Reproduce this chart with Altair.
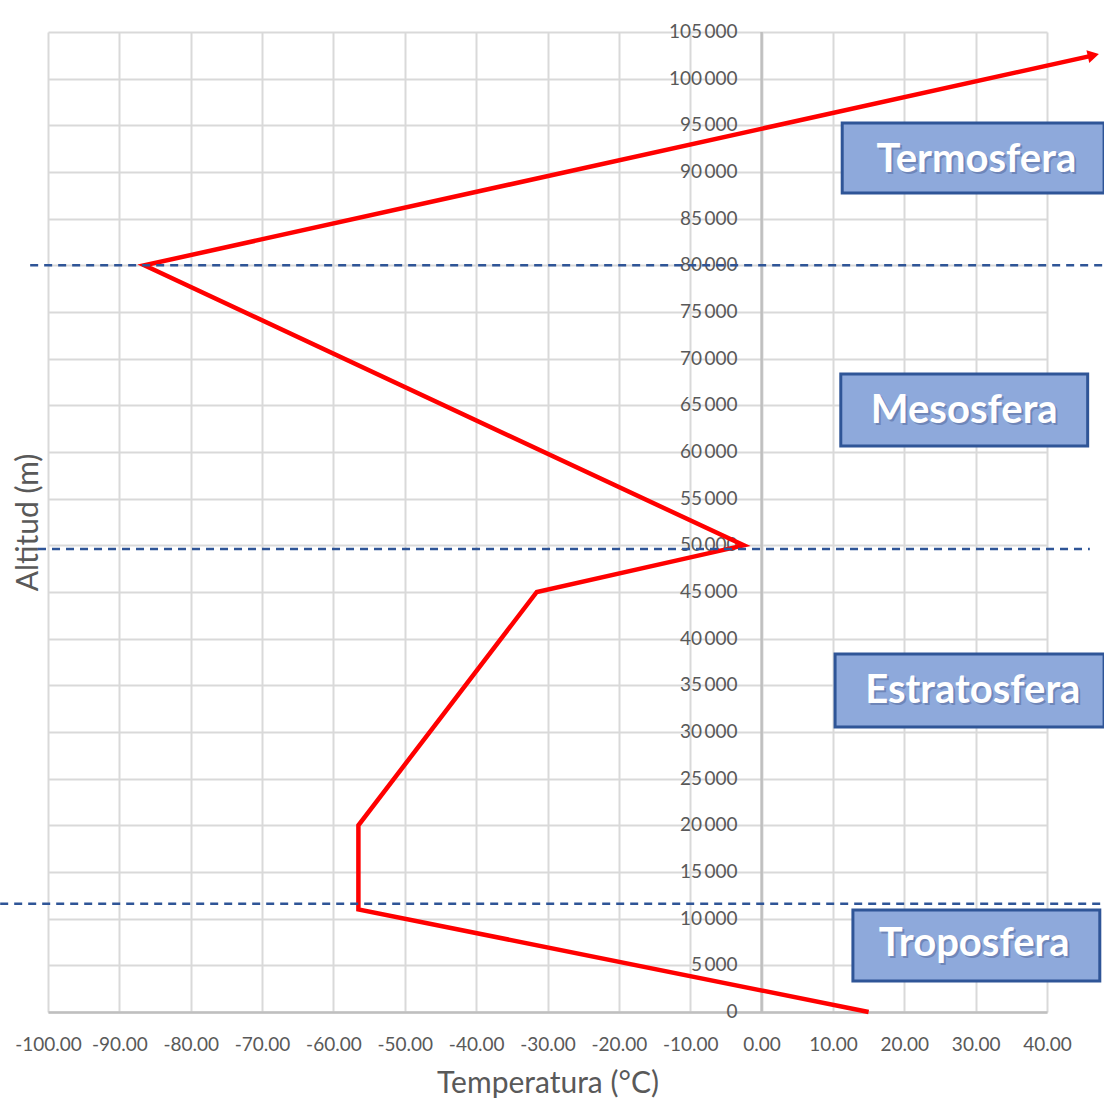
import altair as alt
import pandas as pd

# Temperature profile of the atmosphere (°C vs altitude in m)
temps = [15, -56.5, -56.5, -44.5, -31.5, -2.5, -86.5, 46.5]
altitudes = [0, 11000, 20000, 32000, 45000, 50000, 80000, 102500]

# Layer boundaries (tropopause, stratopause, mesopause)
boundary_alts = [11600, 49600, 80000]
boundary_x0 = [-106.7, -101.4, -102.5]
boundary_x1 = [48.0, 46.0, 48.0]

# Layer name boxes (temperature / altitude extents) and label anchors
layer_names = ["Termosfera", "Mesosfera", "Estratosfera", "Troposfera"]
box_x0 = [11.3, 11.1, 10.3, 12.8]
box_x1 = [48.0, 45.7, 48.0, 47.4]
box_y0 = [87750, 60640, 30540, 3320]
box_y1 = [95250, 68360, 38360, 10930]
label_x = [30.1, 28.4, 29.6, 29.8]
label_y = [90000, 63100, 33100, 6000]

x_ticks = list(range(-100, 41, 10))
y_ticks = list(range(0, 105001, 5000))

profile = pd.DataFrame({"idx": range(len(temps)), "t": temps, "h": altitudes})
bounds = pd.DataFrame({"h": boundary_alts, "x0": boundary_x0, "x1": boundary_x1})
boxes = pd.DataFrame({"name": layer_names, "x0": box_x0, "x1": box_x1,
                      "y0": box_y0, "y1": box_y1, "lx": label_x, "ly": label_y})
yticks = pd.DataFrame({"v": y_ticks, "z": [0] * len(y_ticks)})
tip = profile.tail(1)

W, H = 999, 980
FONT = "Lato"
GRID = "#D9D9D9"
AXIS = "#BFBFBF"
TXT = "#595959"

x_scale = alt.Scale(domain=[-100, 40], nice=False, zero=False)
y_scale = alt.Scale(domain=[0, 105000], nice=False, zero=False)

x_axis = alt.Axis(values=x_ticks, grid=True, gridColor=GRID, gridWidth=2,
                  domain=True, domainColor=AXIS, domainWidth=2.5, ticks=False,
                  labelExpr="replace(format(datum.value, '.2f'), '\u2212', '-')",
                  labelFont=FONT, labelFontSize=19, labelColor=TXT, labelPadding=23,
                  labelOverlap=False, labelFlush=False,
                  title="Temperatura (°C)", titleFont=FONT, titleFontSize=30,
                  titleFontWeight="normal", titleColor=TXT, titleX=W / 2, titleY=80,
                  titleBaseline="alphabetic", titleAlign="center")
y_axis = alt.Axis(values=y_ticks, grid=True, gridColor=GRID, gridWidth=2,
                  domain=False, ticks=False, labels=False,
                  title="Altitud (m)", titleFont=FONT, titleFontSize=30,
                  titleFontWeight="normal", titleColor=TXT, titleX=-11, titleY=H / 2,
                  titleAngle=270, titleBaseline="alphabetic", titleAlign="center")

X = lambda f: alt.X(f, type="quantitative", scale=x_scale, axis=x_axis)
Y = lambda f: alt.Y(f, type="quantitative", scale=y_scale, axis=y_axis)

# vertical axis drawn at 0 °C
zero_axis = alt.Chart(yticks).mark_rule(color=AXIS, strokeWidth=2.5).encode(
    x=X("z"), y=alt.Y("min(v):Q", scale=y_scale, axis=y_axis), y2="max(v):Q"
)

# altitude tick labels sitting next to the 0 °C axis
y_labels = alt.Chart(yticks).mark_text(
    align="right", baseline="middle", dx=-24, font=FONT, fontSize=19, color=TXT
).transform_calculate(
    lab="replace(format(datum.v, ','), ',', '\u2009')"
).encode(x=X("z"), y=Y("v"), text="lab:N")

line = alt.Chart(profile).mark_line(color="#FF0000", strokeWidth=4.5,
                                    strokeJoin="miter").encode(
    x=X("t"), y=Y("h"), order="idx:Q"
)

arrow = alt.Chart(tip).mark_point(shape="triangle-right", filled=True, size=170,
                                  color="#FF0000", opacity=1, angle=347.5).encode(
    x=X("t"), y=Y("h")
)

dashes = alt.Chart(bounds).mark_rule(color="#2F5597", strokeWidth=2.5,
                                     strokeDash=[8, 6]).encode(
    x=X("x0"), x2="x1", y=Y("h")
)

box = alt.Chart(boxes).mark_rect(fill="#8EA9DB", stroke="#2F5597",
                                 strokeWidth=3).encode(
    x=X("x0"), x2="x1", y=Y("y0"), y2="y1"
)

shadow = alt.Chart(boxes).mark_text(
    font=FONT, fontSize=40, fontWeight="bold", color="#6f86b8", align="center",
    baseline="alphabetic", dx=2, dy=2
).encode(x=X("lx"), y=Y("ly"), text="name:N")

label = alt.Chart(boxes).mark_text(
    font=FONT, fontSize=40, fontWeight="bold", color="#FFFFFF", align="center",
    baseline="alphabetic"
).encode(x=X("lx"), y=Y("ly"), text="name:N")

chart = alt.layer(
    zero_axis, y_labels, line, arrow, dashes, box, shadow, label
).properties(
    width=W, height=H, autosize="none",
    padding={"left": 48, "top": 32, "right": 57, "bottom": 87},
    background="#FFFFFF",
).configure_view(strokeWidth=0)

chart.save("out.html", embed_options={"renderer": "svg", "actions": False})
